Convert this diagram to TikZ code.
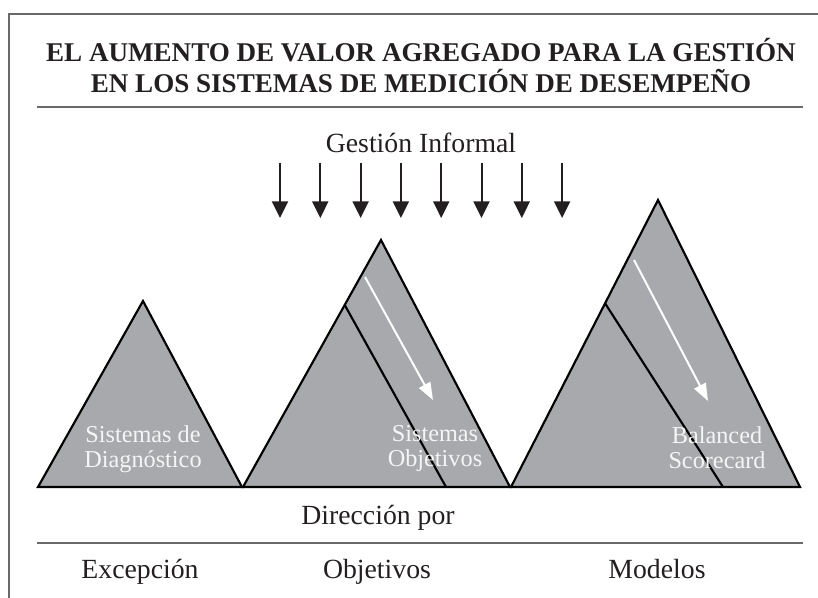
\documentclass[tikz,border=0pt]{standalone}
\usepackage{fontspec}
\setmainfont{Liberation Serif}
\usetikzlibrary{arrows.meta, positioning, calc}
\definecolor{rock}{RGB}{168,169,173}
\definecolor{rulegray}{RGB}{105,105,105}
\definecolor{ink}{RGB}{35,31,32}
\tikzset{peak/.style={draw=black, fill=rock, line width=1.6pt, line join=miter},
         ridge/.style={draw=black, line width=1.6pt},
         slide/.style={draw=white, line width=1.5pt, -{Triangle[length=13pt, width=9.5pt]}},
         rain/.style={draw=ink, line width=1.5pt, -{Triangle[length=12.5pt, width=12pt]}},
         hrule/.style={draw=rulegray, line width=1.5pt},
         heading/.style={text=ink, font=\fontsize{20.3}{24}\selectfont\bfseries, inner sep=0pt, anchor=base},
         txt/.style={text=ink, font=\fontsize{20.8}{24}\selectfont, inner sep=0pt, anchor=base},
         inlabel/.style={text=gray!8, font=\fontsize{18.2}{18.75}\selectfont, align=center, inner sep=0pt}}

\begin{document}
\begin{tikzpicture}[x=0.75pt, y=-0.75pt]
    \useasboundingbox (0,0) rectangle (818,598);
    % frame and title
    \draw[hrule] (9,598) -- (9,14) -- (818,14);
    \node[heading] (title1) at (421,62) {EL AUMENTO DE VALOR AGREGADO PARA LA GESTIÓN};
    \node[heading] (title2) at (421,93) {EN LOS SISTEMAS DE MEDICIÓN DE DESEMPEÑO};
    \draw[hrule] (37,107) -- (803,107);

    % informal arrows
    \node[txt] (informal) at (421,153) {Gestión Informal};
    \foreach \i in {0,...,7} {
        \coordinate (r\i) at (280+40.3*\i,163);
        \coordinate (s\i) at (280+40.3*\i,218);
        \draw[rain] (r\i) -- (s\i);
    }

    % mountains
    \coordinate (a1) at (38,487);
    \coordinate (a2) at (242,487);
    \coordinate (a3) at (143,301);
    \coordinate (b1) at (243,487);
    \coordinate (b2) at (510,487);
    \coordinate (b3) at (381,240);
    \coordinate (b4) at ($(b1)!0.737!(b3)$);
    \coordinate (b5) at (446,487);
    \coordinate (c1) at (511,487);
    \coordinate (c2) at (800,487);
    \coordinate (c3) at (658,200);
    \coordinate (c4) at ($(c1)!0.64!(c3)$);
    \coordinate (c5) at (723,487);
    \path[peak] (a1) -- (a3) -- (a2) -- cycle;
    \path[peak] (b1) -- (b3) -- (b2) -- cycle;
    \path[peak] (c1) -- (c3) -- (c2) -- cycle;
    \draw[ridge] (b4) -- (b5);
    \draw[ridge] (c4) -- (c5);

    \coordinate (bs) at (365,277);
    \coordinate (be) at (433,400);
    \coordinate (cs) at (634,260);
    \coordinate (ce) at (708,401);
    \draw[slide] (bs) -- (be);
    \draw[slide] (cs) -- (ce);

    \node[inlabel] (diag) at (143,449) {Sistemas de\\Diagnóstico};
    \node[inlabel] (obj) at (435,449) {Sistemas\\Objetivos};
    \node[inlabel] (bsc) at (717,448) {Balanced\\Scorecard};

    % bottom
    \node[txt] (dir) at (378,525) {Dirección por};
    \draw[hrule] (37,543) -- (803,543);
    \node[txt] (exc) at (140,579) {Excepción};
    \node[txt] (objs) at (377,578) {Objetivos};
    \node[txt] (mod) at (657,578) {Modelos};
\end{tikzpicture}
\end{document}
